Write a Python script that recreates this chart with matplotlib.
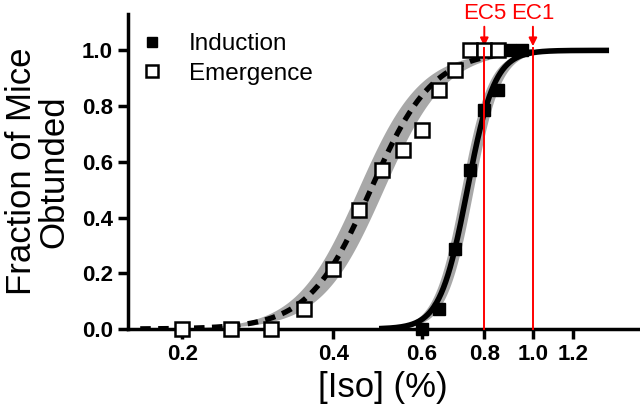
# dose-response of isoflurane: fraction of mice obtunded, induction vs emergence

import numpy as np
import matplotlib
matplotlib.use("Agg")
import matplotlib.pyplot as plt
from matplotlib import ticker

plt.rcParams["font.family"] = ["Liberation Sans", "DejaVu Sans"]

# measured points (fraction of 14 mice)
emerg_conc = [0.20, 0.25, 0.30, 0.35, 0.40, 0.45, 0.50, 0.55, 0.60, 0.65, 0.70, 0.75, 0.80, 0.85]
emerg_frac = [0, 0, 0, 1/14, 3/14, 6/14, 8/14, 9/14, 10/14, 12/14, 13/14, 1, 1, 1]
induc_conc = [0.60, 0.65, 0.70, 0.75, 0.80, 0.85, 0.90, 0.95]
induc_frac = [0, 1/14, 4/14, 8/14, 11/14, 12/14, 1, 1]

# hill fit parameters (ec50, slope, band spread)
emerg_fit = (0.475, 7.0, 0.06)
induc_fit = (0.74, 16.0, 0.028)

# marked concentrations
ec_marks = [0.8, 1.0]
ec_labels = ["EC5", "EC1"]

x_ticks = [0.2, 0.4, 0.6, 0.8, 1.0, 1.2]
y_ticks = [0.0, 0.2, 0.4, 0.6, 0.8, 1.0]


def hill(x, ec50, n):
    return 1.0 / (1.0 + (ec50 / x) ** n)


fig = plt.figure(figsize=(6.4, 4.17), dpi=100)
ax = fig.add_axes([0.2, 0.211, 0.797, 0.755])
ax.set_xscale("log")

band = "#a8a8a8"
xe = np.geomspace(0.165, 1.0, 300)
ec, n, d = emerg_fit
ax.fill_between(xe, hill(xe, ec * (1 + d), n), hill(xe, ec / (1 + d), n),
                color=band, lw=0, zorder=1)
ax.plot(xe, hill(xe, ec, n), color="k", lw=3.8, ls=(0, (2.0, 1.4)), zorder=2)

xi = np.geomspace(0.5, 1.4, 300)
ec, n, d = induc_fit
ax.fill_between(xi, hill(xi, ec * (1 + d), n), hill(xi, ec / (1 + d), n),
                color=band, lw=0, zorder=1)
ax.plot(xi, hill(xi, ec, n), color="k", lw=4, zorder=3)

ax.plot(induc_conc, induc_frac, "s", color="k", ms=8, clip_on=False,
        zorder=5, label="Induction")
ax.plot(emerg_conc, emerg_frac, "s", mfc="white", mec="k", mew=1.8, ms=10,
        clip_on=False, zorder=4, label="Emergence")

for xm, lab in zip(ec_marks, ec_labels):
    ax.plot([xm, xm], [0, 1.01], color="red", lw=1.4, zorder=6, clip_on=False)
    ax.annotate(lab, xy=(xm, 1.015), xytext=(xm, 1.095), color="red",
                fontsize=16, ha="center", va="bottom", annotation_clip=False,
                arrowprops=dict(arrowstyle="-|>", color="red", lw=1.4,
                                mutation_scale=12, shrinkA=0, shrinkB=0))

ax.set_xlim(0.156, 1.62)
ax.set_ylim(0, 1.13)
ax.xaxis.set_major_locator(ticker.FixedLocator(x_ticks))
ax.xaxis.set_minor_locator(ticker.NullLocator())
ax.set_xticklabels(["%.1f" % v for v in x_ticks])
ax.set_yticks(y_ticks)
ax.set_yticklabels(["%.1f" % v for v in y_ticks])

for s in ["top", "right"]:
    ax.spines[s].set_visible(False)
for s in ["left", "bottom"]:
    ax.spines[s].set_linewidth(2.5)
ax.tick_params(width=2.5, length=7, labelsize=16, pad=4)
for t in ax.get_xticklabels() + ax.get_yticklabels():
    t.set_fontweight("bold")

ax.set_xlabel("[Iso] (%)", fontsize=25, labelpad=4)
ax.set_ylabel("Fraction of Mice\nObtunded", fontsize=25, labelpad=8,
              linespacing=1.0)

leg = ax.legend(loc="upper left", frameon=False, fontsize=17.5,
                handletextpad=0.9, borderaxespad=0, handlelength=1.2,
                bbox_to_anchor=(0.0, 0.97), labelspacing=0.3, markerscale=0.85)

fig.savefig("out.png", dpi=100)
